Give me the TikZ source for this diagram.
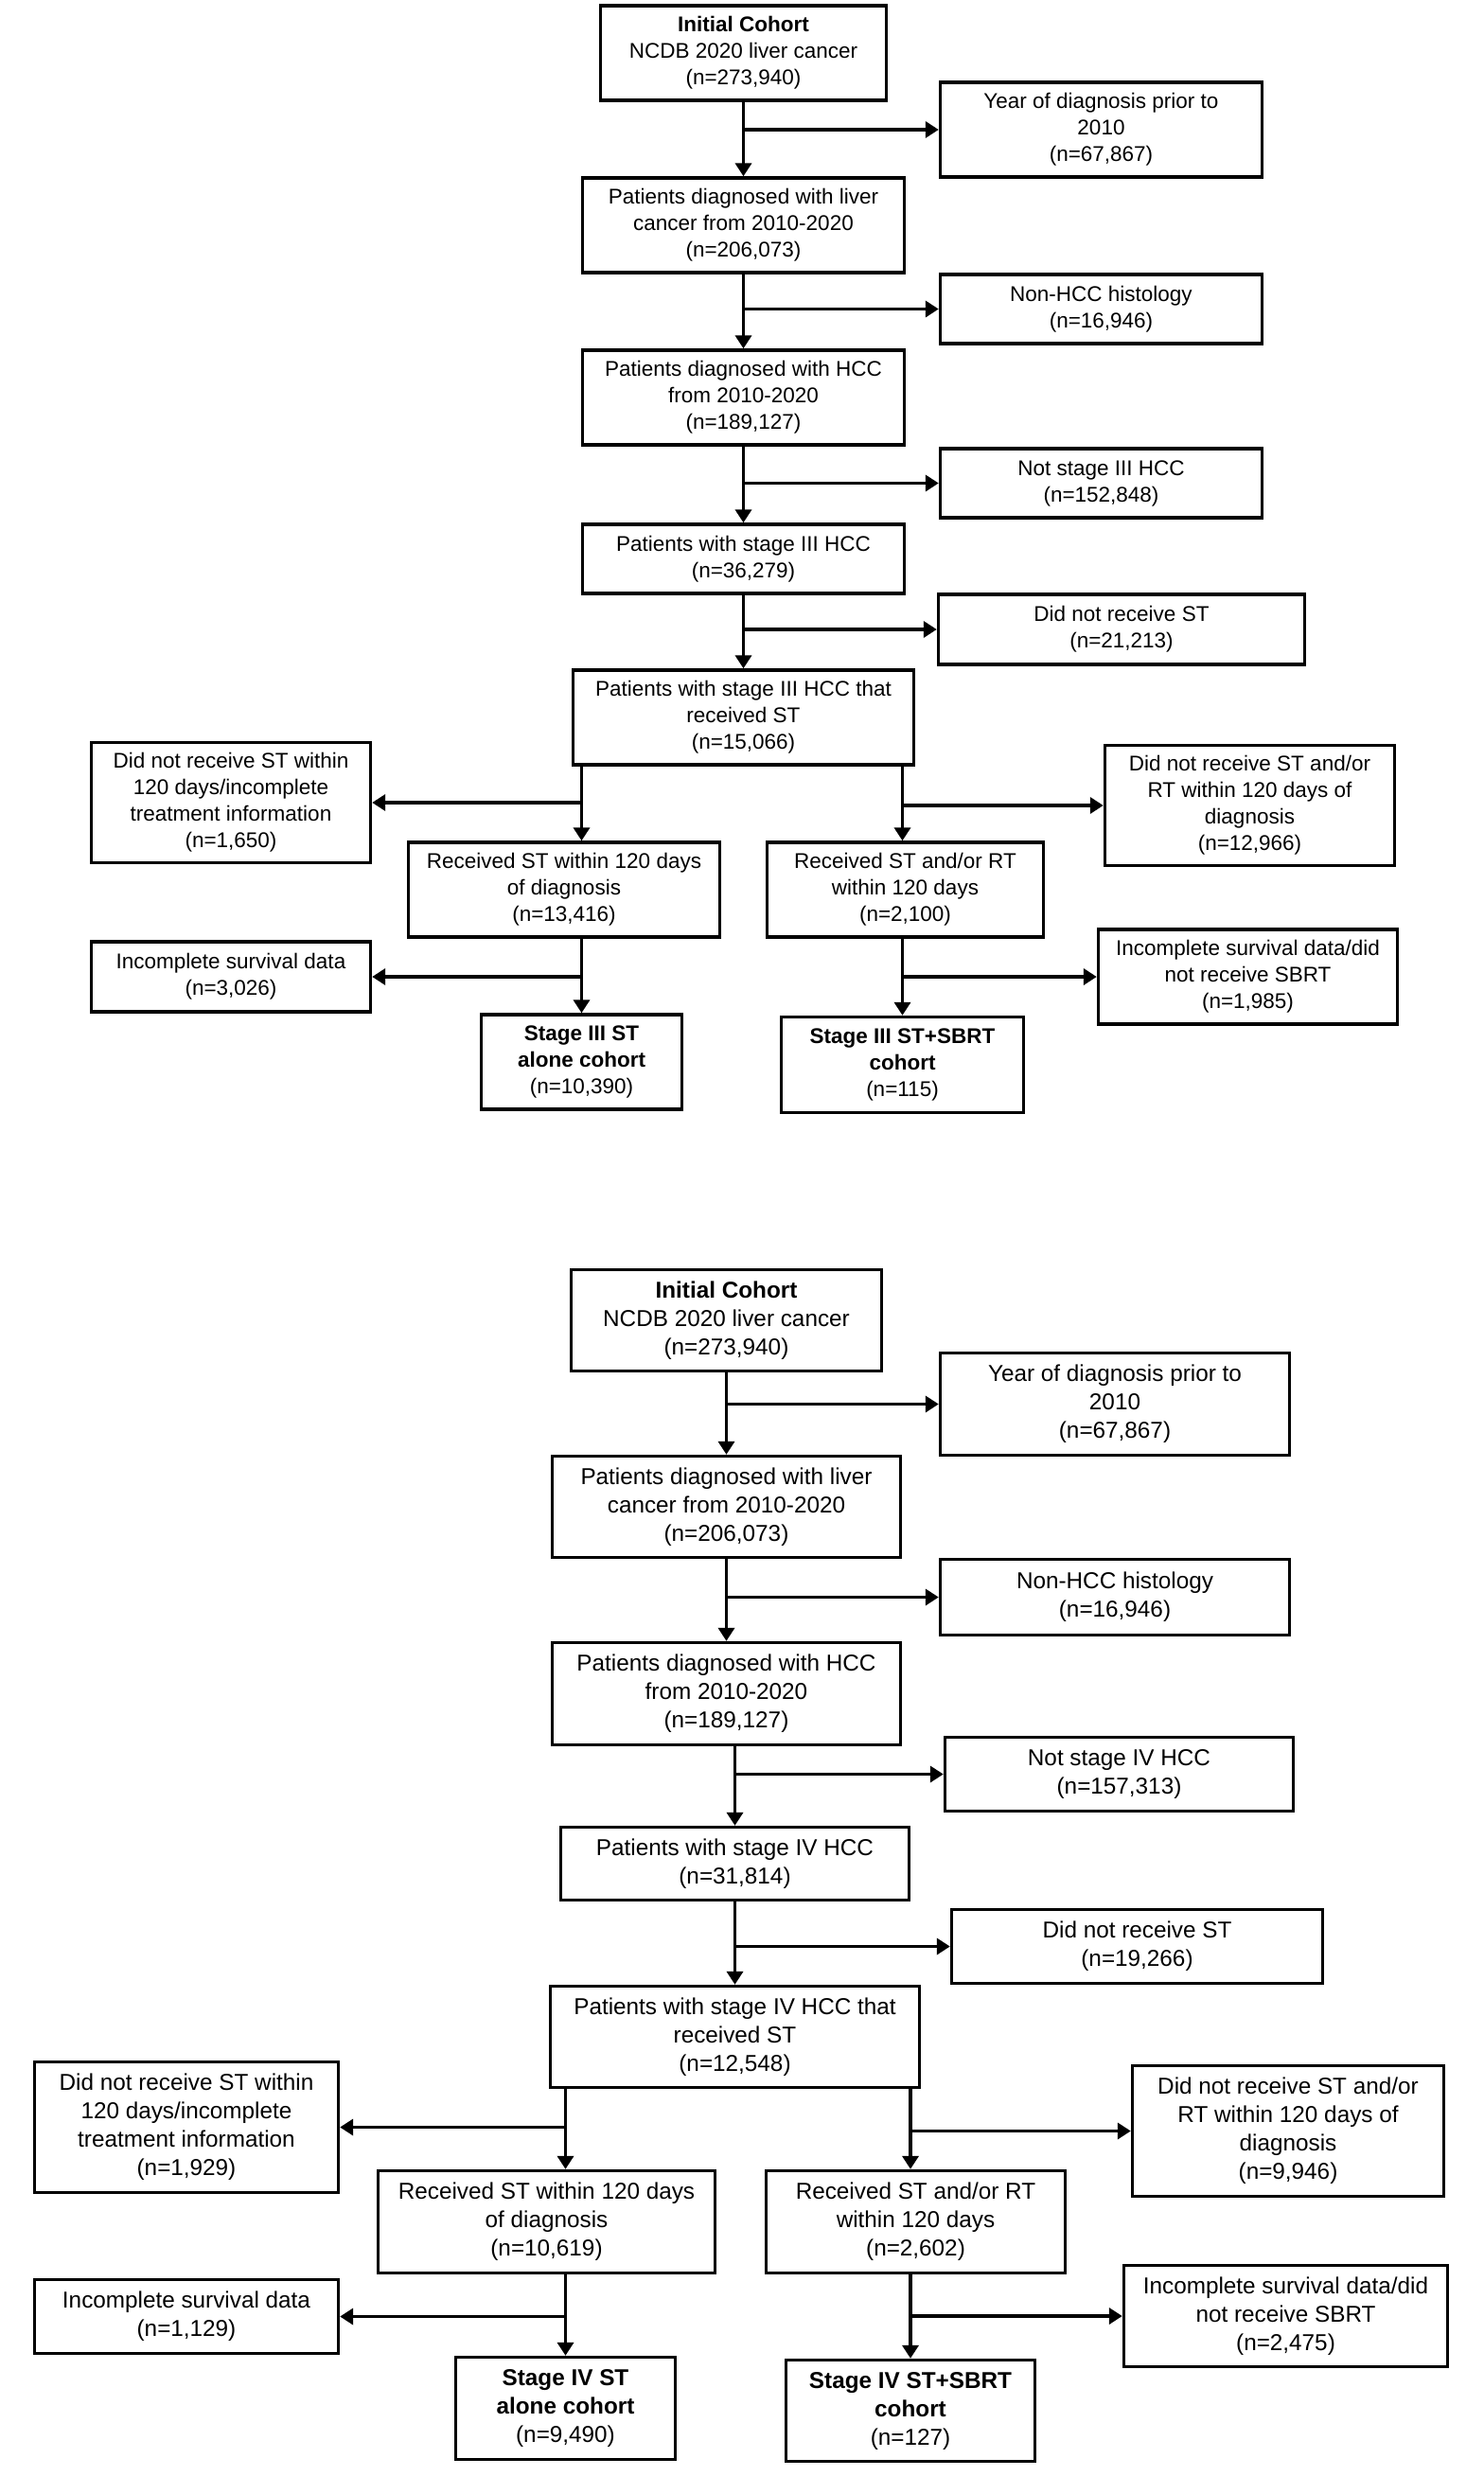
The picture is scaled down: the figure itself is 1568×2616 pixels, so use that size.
\documentclass[tikz,border=0pt]{standalone}
\usepackage{fontspec}
\setmainfont{Liberation Sans}
\usepackage{tikz}
\usetikzlibrary{arrows.meta}
\tikzstyle{cbox}=[
	draw=black,
	line width=3.4pt,
	align=center,
	inner sep=2pt
]
\tikzstyle{upbox}=[
	cbox,
	font=\fontsize{22.5}{28}\selectfont
]
\tikzstyle{lowbox}=[
	cbox,
	font=\fontsize{24.3}{30}\selectfont
]
\tikzstyle{arr}=[
	-{Triangle[length=14pt,width=17pt]},
	line width=3.8pt,
	draw=black
]

\begin{document}
\begin{tikzpicture}[x=1pt, y=-1pt]
\useasboundingbox (0,0) rectangle (1568,2616);

% stage III
\node[upbox, minimum width=302, minimum height=100] (init3) at (785.5,56) {\textbf{Initial Cohort}\\NCDB 2020 liver cancer\\(n=273,940)};
\node[upbox, minimum width=340, minimum height=100] (year3) at (1163.5,137) {Year of diagnosis prior to\\2010\\(n=67,867)};
\node[upbox, minimum width=340, minimum height=100] (liver3) at (785.5,238) {Patients diagnosed with liver\\cancer from 2010-2020\\(n=206,073)};
\node[upbox, minimum width=340, minimum height=73] (nonhcc3) at (1163.5,326.5) {Non-HCC histology\\(n=16,946)};
\node[upbox, minimum width=340, minimum height=100] (hcc3) at (785.5,420) {Patients diagnosed with HCC\\from 2010-2020\\(n=189,127)};
\node[upbox, minimum width=340, minimum height=73] (notst3) at (1163.5,510.5) {Not stage III HCC\\(n=152,848)};
\node[upbox, minimum width=340, minimum height=73] (stage3) at (785.5,590.5) {Patients with stage III HCC\\(n=36,279)};
\node[upbox, minimum width=387, minimum height=74] (nost3) at (1185,665) {Did not receive ST\\(n=21,213)};
\node[upbox, minimum width=360, minimum height=100] (rst3) at (785.5,758) {Patients with stage III HCC that\\received ST\\(n=15,066)};
\node[upbox, minimum width=295, minimum height=127] (no120_3) at (244,848) {Did not receive ST within\\120 days/incomplete\\treatment information\\(n=1,650)};
\node[upbox, minimum width=329, minimum height=100] (st120_3) at (596,940) {Received ST within 120 days\\of diagnosis\\(n=13,416)};
\node[upbox, minimum width=292, minimum height=100] (rt120_3) at (956.5,940) {Received ST and/or RT\\within 120 days\\(n=2,100)};
\node[upbox, minimum width=306, minimum height=127] (nort3) at (1320.5,851) {Did not receive ST and/or\\RT within 120 days of\\diagnosis\\(n=12,966)};
\node[upbox, minimum width=295, minimum height=74] (incl3) at (244,1032) {Incomplete survival data\\(n=3,026)};
\node[upbox, minimum width=316, minimum height=100] (incr3) at (1318.5,1032) {Incomplete survival data/did\\not receive SBRT\\(n=1,985)};
\node[upbox, minimum width=212, minimum height=100] (alone3) at (614.5,1122) {\textbf{Stage III ST}\\\textbf{alone cohort}\\(n=10,390)};
\node[upbox, minimum width=256, minimum height=101] (sbrt3) at (953.5,1125) {\textbf{Stage III ST+SBRT}\\\textbf{cohort}\\(n=115)};

\draw[arr] (init3) -- (liver3);
\draw[arr] (liver3) -- (hcc3);
\draw[arr] (hcc3) -- (stage3);
\draw[arr] (stage3) -- (rst3);
\draw[arr] (init3.south |- year3.west) -- (year3.west);
\draw[arr] (liver3.south |- nonhcc3.west) -- (nonhcc3.west);
\draw[arr] (hcc3.south |- notst3.west) -- (notst3.west);
\draw[arr] (stage3.south |- nost3.west) -- (nost3.west);

\draw[arr] (rst3.south -| alone3) -- (st120_3.north -| alone3);
\draw[arr] (rst3.south -| sbrt3) -- (rt120_3.north -| sbrt3);
\draw[arr] (no120_3.east -| alone3) -- (no120_3.east);
\draw[arr] (nort3.west -| sbrt3) -- (nort3.west);
\draw[arr] (st120_3.south -| alone3) -- (alone3.north);
\draw[arr] (rt120_3.south -| sbrt3) -- (sbrt3.north);
\draw[arr] (incl3.east -| alone3) -- (incl3.east);
\draw[arr] (incr3.west -| sbrt3) -- (incr3.west);

% stage IV
\node[lowbox, minimum width=328, minimum height=107] (init4) at (767.5,1395) {\textbf{Initial Cohort}\\NCDB 2020 liver cancer\\(n=273,940)};
\node[lowbox, minimum width=369, minimum height=108] (year4) at (1178,1483.5) {Year of diagnosis prior to\\2010\\(n=67,867)};
\node[lowbox, minimum width=368, minimum height=107] (liver4) at (767.5,1592) {Patients diagnosed with liver\\cancer from 2010-2020\\(n=206,073)};
\node[lowbox, minimum width=369, minimum height=80] (nonhcc4) at (1178,1687.5) {Non-HCC histology\\(n=16,946)};
\node[lowbox, minimum width=368, minimum height=108] (hcc4) at (767.5,1789.5) {Patients diagnosed with HCC\\from 2010-2020\\(n=189,127)};
\node[lowbox, minimum width=368, minimum height=78] (notst4) at (1182.5,1874.5) {Not stage IV HCC\\(n=157,313)};
\node[lowbox, minimum width=368, minimum height=77] (stage4) at (776.5,1969) {Patients with stage IV HCC\\(n=31,814)};
\node[lowbox, minimum width=392, minimum height=78] (nost4) at (1201.5,2056.5) {Did not receive ST\\(n=19,266)};
\node[lowbox, minimum width=390, minimum height=107] (rst4) at (776.5,2152) {Patients with stage IV HCC that\\received ST\\(n=12,548)};
\node[lowbox, minimum width=321, minimum height=138] (no120_4) at (197,2247.5) {Did not receive ST within\\120 days/incomplete\\treatment information\\(n=1,929)};
\node[lowbox, minimum width=356, minimum height=108] (st120_4) at (577.5,2347.5) {Received ST within 120 days\\of diagnosis\\(n=10,619)};
\node[lowbox, minimum width=316, minimum height=108] (rt120_4) at (967.5,2347.5) {Received ST and/or RT\\within 120 days\\(n=2,602)};
\node[lowbox, minimum width=329, minimum height=138] (nort4) at (1361,2251.5) {Did not receive ST and/or\\RT within 120 days of\\diagnosis\\(n=9,946)};
\node[lowbox, minimum width=321, minimum height=78] (incl4) at (197,2447.5) {Incomplete survival data\\(n=1,129)};
\node[lowbox, minimum width=342, minimum height=107] (incr4) at (1358.5,2447) {Incomplete survival data/did\\not receive SBRT\\(n=2,475)};
\node[lowbox, minimum width=232, minimum height=108] (alone4) at (597.5,2544.5) {\textbf{Stage IV ST}\\\textbf{alone cohort}\\(n=9,490)};
\node[lowbox, minimum width=263, minimum height=107] (sbrt4) at (962,2547) {\textbf{Stage IV ST+SBRT}\\\textbf{cohort}\\(n=127)};

\draw[arr] (init4) -- (liver4);
\draw[arr] (liver4) -- (hcc4);
\draw[arr] (hcc4.south -| stage4) -- (stage4.north);
\draw[arr] (stage4) -- (rst4);
\draw[arr] (init4.south |- year4.west) -- (year4.west);
\draw[arr] (liver4.south |- nonhcc4.west) -- (nonhcc4.west);
\draw[arr] (stage4.north |- notst4.west) -- (notst4.west);
\draw[arr] (stage4.south |- nost4.west) -- (nost4.west);

\draw[arr] (rst4.south -| alone4) -- (st120_4.north -| alone4);
\draw[arr] (rst4.south -| sbrt4) -- (rt120_4.north -| sbrt4);
\draw[arr] (no120_4.east -| alone4) -- (no120_4.east);
\draw[arr] (nort4.west -| sbrt4) -- (nort4.west);
\draw[arr] (st120_4.south -| alone4) -- (alone4.north);
\draw[arr] (rt120_4.south -| sbrt4) -- (sbrt4.north);
\draw[arr] (incl4.east -| alone4) -- (incl4.east);
\draw[arr] (incr4.west -| sbrt4) -- (incr4.west);

\end{tikzpicture}
\end{document}
